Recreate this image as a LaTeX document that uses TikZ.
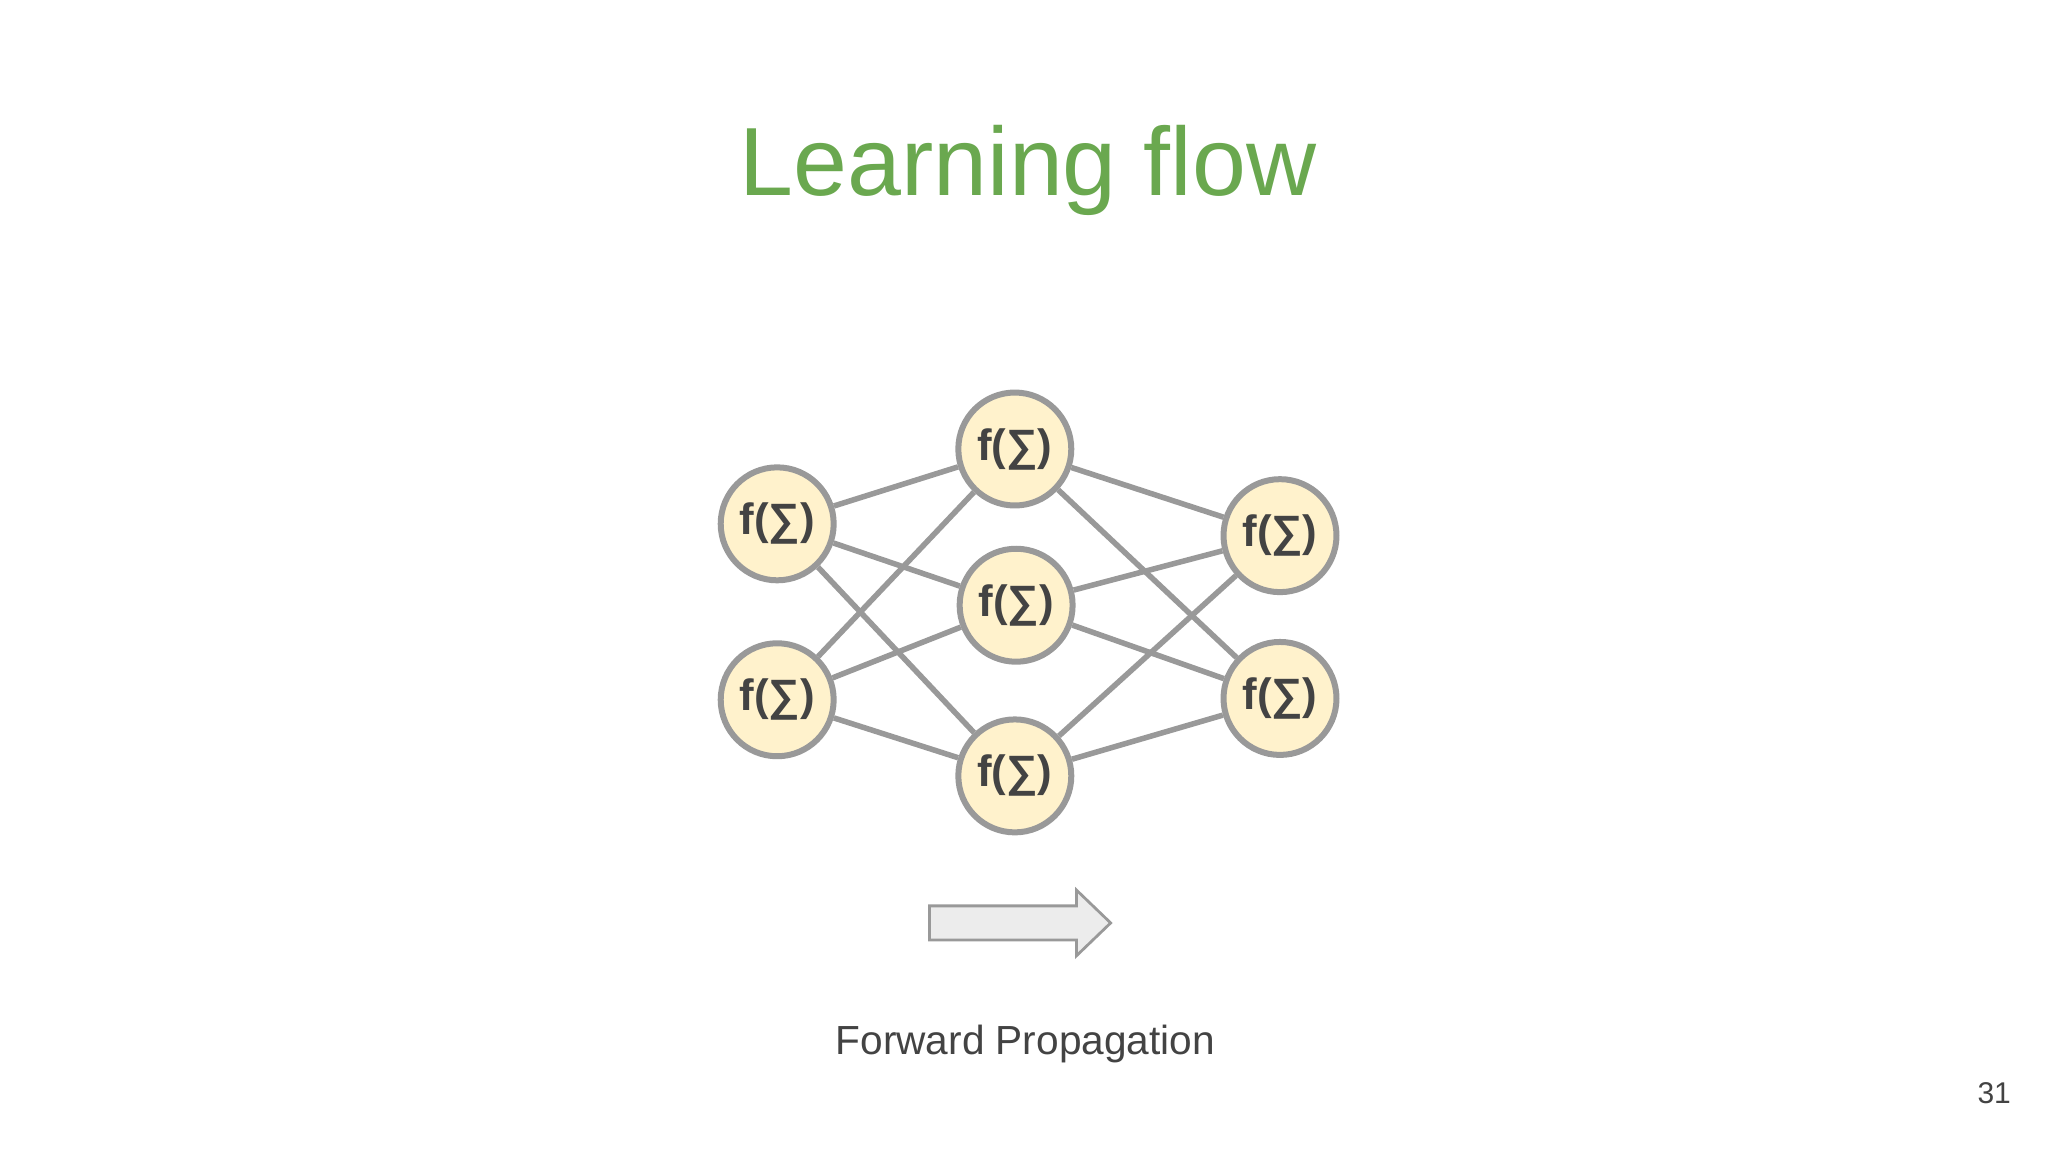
\documentclass[tikz,border=0pt]{standalone}
\usepackage{fontspec}
\setmainfont{Liberation Sans}
\definecolor{titlegreen}{HTML}{6AA84F}
\definecolor{nodefill}{HTML}{FFF2CC}
\definecolor{linegray}{HTML}{999999}
\definecolor{textgray}{HTML}{434343}
\begin{document}
\begin{tikzpicture}[x=0.01cm,y=-0.01cm,draw=linegray]
	\tikzstyle{f-node}=[circle,draw=linegray,fill=nodefill,line width=1.3pt,inner sep=0pt,minimum size=0.86cm,text=textgray,font=\fontsize{9.5}{11}\selectfont\bfseries]
	\tikzstyle{w-line}=[draw=linegray,line width=1.2pt]
	\useasboundingbox (0,0) rectangle (1560,877.5);
	% title
	\node[text=titlegreen,font=\fontsize{21}{25}\selectfont] (title) at (783,130) {Learning flow};

	% input layer
	\node[f-node] 	(i1)	at (592,399)	{f(∑)};
	\node[f-node] 	(i2)	at (592,533)	{f(∑)};
	% hidden layer
	\node[f-node] 	(h1)	at (773,342)	{f(∑)};
	\node[f-node] 	(h2)	at (774,461)	{f(∑)};
	\node[f-node] 	(h3)	at (773,591)	{f(∑)};
	% output layer
	\node[f-node] 	(o1)	at (975,408)	{f(∑)};
	\node[f-node] 	(o2)	at (975,532)	{f(∑)};

	\begin{scope}[on background layer/.style={}]
	\foreach \a in {i1,i2}
		\foreach \b in {h1,h2,h3}
			\draw[w-line] (\a) -- (\b);
	\foreach \a in {h1,h2,h3}
		\foreach \b in {o1,o2}
			\draw[w-line] (\a) -- (\b);
	\end{scope}

	% arrow
	\draw[draw=linegray,fill=gray!15,line width=0.6pt] (708,690) -- (820,690) -- (820,678) -- (846,703) -- (820,728) -- (820,716) -- (708,716) -- cycle;
	\node[text=textgray,font=\fontsize{8.8}{10}\selectfont] (fwd) at (781,795) {Forward Propagation};
	\node[text=textgray,font=\fontsize{6.5}{8}\selectfont] (page) at (1519,833) {31};
\end{tikzpicture}
\end{document}
